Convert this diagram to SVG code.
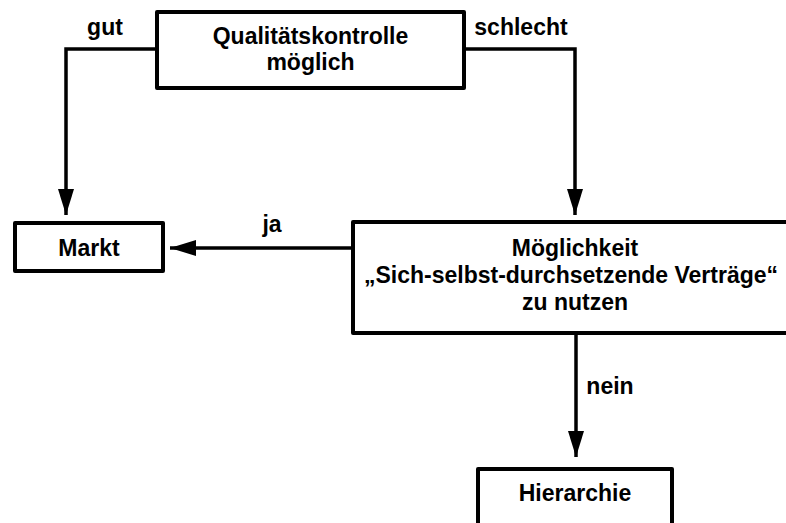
<svg xmlns="http://www.w3.org/2000/svg" width="786" height="523" viewBox="0 0 786 523">
<defs>
<marker id="arr" markerUnits="userSpaceOnUse" markerWidth="26" markerHeight="16" refX="26" refY="8" orient="auto">
<path d="M0,0 L26,8 L0,16 z" fill="#000"/>
</marker>
<style>
.box{fill:#fff;stroke:#000;stroke-width:4;stroke-linejoin:round}
.con{fill:none;stroke:#000;stroke-width:3.5;marker-end:url(#arr)}
text{font-family:"Liberation Sans",Arial,sans-serif;font-weight:bold;font-size:23px;fill:#000;text-anchor:middle}
</style>
</defs>
<rect width="786" height="523" fill="#fff"/>
<g id="connectors">
<path class="con" d="M157,49 H66 V215"/>
<path class="con" d="M464,49 H575 V215"/>
<path class="con" d="M353,248 H170"/>
<path class="con" d="M576,333 V457"/>
<text x="105" y="35">gut</text>
<text x="521" y="35">schlecht</text>
<text x="272" y="232">ja</text>
<text x="610" y="394">nein</text>
</g>
<g id="qualitaet">
<rect class="box" x="157" y="12" width="307" height="76"/>
<text x="310.5" y="44">Qualitätskontrolle</text>
<text x="310.5" y="70">möglich</text>
</g>
<g id="markt">
<rect class="box" x="15" y="223" width="148" height="48"/>
<text x="89" y="256">Markt</text>
</g>
<g id="moeglichkeit">
<rect class="box" x="353" y="222" width="450" height="111"/>
<text x="575" y="256">Möglichkeit</text>
<text x="571" y="283">„Sich-selbst-durchsetzende Verträge“</text>
<text x="575" y="310">zu nutzen</text>
</g>
<g id="hierarchie">
<rect class="box" x="478" y="469" width="194" height="70"/>
<text x="575" y="501">Hierarchie</text>
</g>
</svg>
